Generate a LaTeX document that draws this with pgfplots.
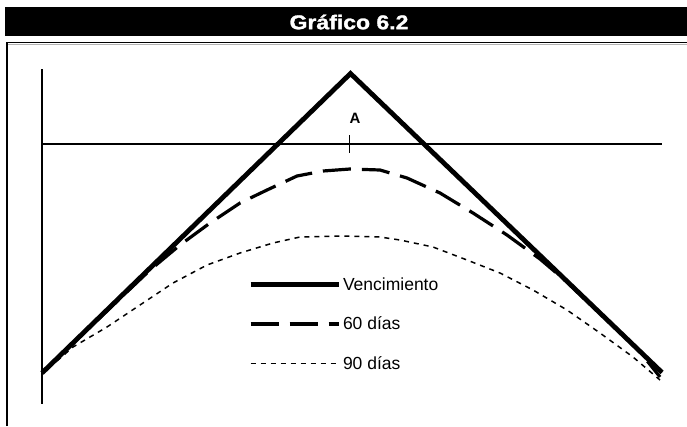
\documentclass[border=0pt]{standalone}
\usepackage{pgfplots}
\pgfplotsset{compat=1.18}
\usepackage{fontspec}
\setmainfont{Liberation Sans}
\newfontfamily\titlefont[FakeBold=1.3]{Liberation Sans Bold}

% pixel-like coordinates: x to the right, y downwards
\pgfplotstableread{
x y
42 373
350.5 73.5
662 372.5
}\vencimiento
\pgfplotstableread{
x y
42 373
90 327
120 298.5
150 270
180 245
210 223
240 203
267 190
297 176
323 171
350 169
380 170
407 178
440 193
473 213
507 235
540 259
567 282
590 304
617 329
640 352
660 377
}\sesenta
\pgfplotstableread{
x y
42 374
73 347
107 327
140 305
173 283
207 265
240 253
273 243
300 237
340 236
380 237
400 240
433 247
467 260
500 273
533 290
567 310
600 333
633 357
660 380
}\noventa

\begin{document}
\begin{tikzpicture}
\begin{axis}[
    x=1pt, y=1pt,
    xmin=0, xmax=687, ymin=0, ymax=426,
    y dir=reverse,
    hide axis, clip=false,
    legend cell align=left,
    legend image code/.code={\draw[#1] (0pt,0pt) -- (88pt,0pt);},
    legend style={draw=none, fill=none, at={(axis cs:245,273.5)}, anchor=north west,
        font=\fontsize{17.5}{20}\selectfont, row sep=21pt,
        nodes={inner sep=2pt}},
]
% title bar and frame
\fill[black] (axis cs:5,7) rectangle (axis cs:687,36);
\node[text=white, font=\fontsize{20}{24}\titlefont] at (axis cs:349,22)
    {\scalebox{1.15}[1]{Gráfico 6.2}};
\draw[gray!60, line width=1pt] (axis cs:8,44.5) -- (axis cs:687,44.5);
\draw[black, line width=1.3pt] (axis cs:7,426) -- (axis cs:7,42.5) -- (axis cs:687,42.5);

% axes of the sketch
\addplot[black, line width=1.3pt, forget plot] coordinates {(42,69) (42,404)};
\addplot[black, line width=1.3pt, forget plot] coordinates {(42,144) (662,144)};
\addplot[black, line width=1.3pt, forget plot] coordinates {(349.5,135) (349.5,153)};
\node[font=\fontsize{15}{18}\selectfont\bfseries] at (axis cs:355,118) {A};

\addplot[black, line width=4.8pt, line join=miter] table {\vencimiento};
\addplot[black, line width=3.2pt, dash pattern=on 28pt off 11pt] table {\sesenta};
\addplot[black, line width=1.5pt, dash pattern=on 5pt off 5pt] table {\noventa};
\legend{Vencimiento, 60 días, 90 días}
\end{axis}
\pgfresetboundingbox
\path[use as bounding box] (current axis.south west) rectangle (current axis.north east);
\end{tikzpicture}
\end{document}
